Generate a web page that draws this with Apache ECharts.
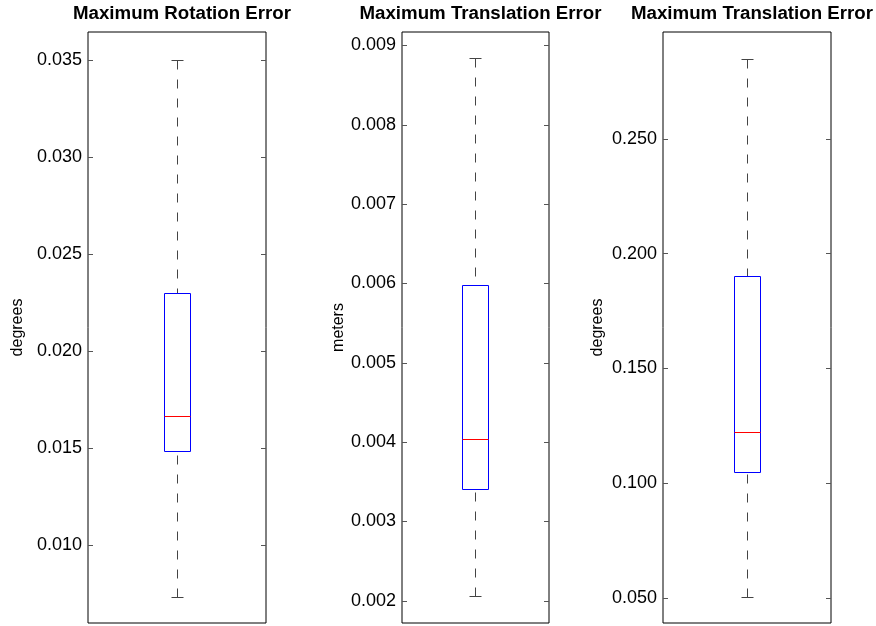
<!DOCTYPE html>
<html>
<head>
<meta charset="utf-8">
<script src="https://cdn.jsdelivr.net/npm/echarts@6/dist/echarts.min.js"></script>
<style>
html,body{margin:0;padding:0;background:#fff;}
#chart{width:876px;height:626px;}
</style>
</head>
<body>
<div id="chart"></div>
<script>
// ---- data ----
const titles = ['Maximum Rotation Error', 'Maximum Translation Error', 'Maximum Translation Error'];
const yAxisNames = ['degrees', 'meters', 'degrees'];
const whiskerLow  = [0.00732, 0.00205, 0.0503];
const quartile1   = [0.0148,  0.0034,  0.1045];
const medianVals  = [0.01663, 0.00403, 0.1221];
const quartile3   = [0.02297, 0.00597, 0.1900];
const whiskerHigh = [0.0350,  0.00883, 0.2844];
const axisMin = [0.00598, 0.00172, 0.0390];
const axisMax = [0.03646, 0.00917, 0.2966];
const tickValues = [
  [0.010, 0.015, 0.020, 0.025, 0.030, 0.035],
  [0.002, 0.003, 0.004, 0.005, 0.006, 0.007, 0.008, 0.009],
  [0.050, 0.100, 0.150, 0.200, 0.250]
];

// ---- layout / style ----
const gridBoxes = [
  {left: 88, width: 178},
  {left: 402, width: 147},
  {left: 663, width: 168}
];
const nameGaps = [62, 46, 57];
const FONT = 'Liberation Sans, Arial, Helvetica, sans-serif';
const BOX_W = 26, CAP_W = 13;

const chart = echarts.init(document.getElementById('chart'), null, {renderer: 'canvas'});

function crisp(v) { return Math.round(v - 0.5) + 0.5; }

const option = {
  animation: false,
  backgroundColor: '#fff',
  title: titles.map((t, i) => ({
    text: t,
    left: gridBoxes[i].left + gridBoxes[i].width / 2,
    top: -1,
    textAlign: 'center',
    textStyle: {fontFamily: FONT, fontSize: 18.7, fontWeight: 'bold', color: '#000'}
  })),
  grid: gridBoxes.map(g => ({
    left: g.left, width: g.width, top: 32, bottom: 3,
    show: true, borderColor: '#000', borderWidth: 1, backgroundColor: '#fff'
  })),
  xAxis: gridBoxes.map((g, i) => ({
    type: 'category', gridIndex: i, data: [''],
    axisLine: {show: false}, axisTick: {show: false}, axisLabel: {show: false},
    splitLine: {show: false}
  })),
  yAxis: [],
  series: []
};

titles.forEach((t, i) => {
  const common = {
    type: 'value', gridIndex: i, min: axisMin[i], max: axisMax[i],
    splitLine: {show: false}, axisLine: {show: false}
  };
  option.yAxis.push(Object.assign({}, common, {
    position: 'left',
    name: yAxisNames[i], nameLocation: 'middle', nameGap: nameGaps[i], nameRotate: 90,
    nameTextStyle: {fontFamily: FONT, fontSize: 16, color: '#000'},
    axisTick: {show: true, inside: true, length: 5, lineStyle: {color: '#555'}, customValues: tickValues[i]},
    axisLabel: {show: true, fontFamily: FONT, fontSize: 18, color: '#000', margin: 6,
      customValues: tickValues[i], formatter: v => Number(v).toFixed(3)}
  }));
  option.yAxis.push(Object.assign({}, common, {
    position: 'right',
    axisTick: {show: true, inside: true, length: 5, lineStyle: {color: '#555'}, customValues: tickValues[i]},
    axisLabel: {show: false}
  }));
  option.series.push({
    type: 'custom',
    xAxisIndex: i, yAxisIndex: 2 * i,
    data: [[0, whiskerLow[i], quartile1[i], medianVals[i], quartile3[i], whiskerHigh[i]]],
    encode: {x: 0, y: [1, 2, 3, 4, 5]},
    renderItem: function (params, api) {
      const xc = crisp(api.coord([api.value(0), api.value(3)])[0]);
      const yLow = crisp(api.coord([0, api.value(1)])[1]);
      const yQ1 = crisp(api.coord([0, api.value(2)])[1]);
      const yMed = crisp(api.coord([0, api.value(3)])[1]);
      const yQ3 = crisp(api.coord([0, api.value(4)])[1]);
      const yHigh = crisp(api.coord([0, api.value(5)])[1]);
      const h = BOX_W / 2, c = Math.floor(CAP_W / 2);
      const wStyle = {stroke: '#444', lineWidth: 1, lineDash: [9, 10]};
      const capStyle = {stroke: '#444', lineWidth: 1};
      return {
        type: 'group',
        children: [
          {type: 'line', shape: {x1: xc, y1: yHigh, x2: xc, y2: yQ3}, style: wStyle},
          {type: 'line', shape: {x1: xc, y1: yLow, x2: xc, y2: yQ1}, style: Object.assign({}, wStyle, {lineDash: [9, 10]})},
          {type: 'line', shape: {x1: xc - c, y1: yHigh, x2: xc + c, y2: yHigh}, style: capStyle},
          {type: 'line', shape: {x1: xc - c, y1: yLow, x2: xc + c, y2: yLow}, style: capStyle},
          {type: 'rect', shape: {x: xc - h, y: yQ3, width: BOX_W, height: yQ1 - yQ3},
            style: {fill: 'none', stroke: '#0000ff', lineWidth: 1}, z2: 5},
          {type: 'line', shape: {x1: xc - h, y1: yMed, x2: xc + h, y2: yMed},
            style: {stroke: '#ff0000', lineWidth: 1}, z2: 6}
        ]
      };
    }
  });
});

chart.setOption(option);
</script>
</body>
</html>
